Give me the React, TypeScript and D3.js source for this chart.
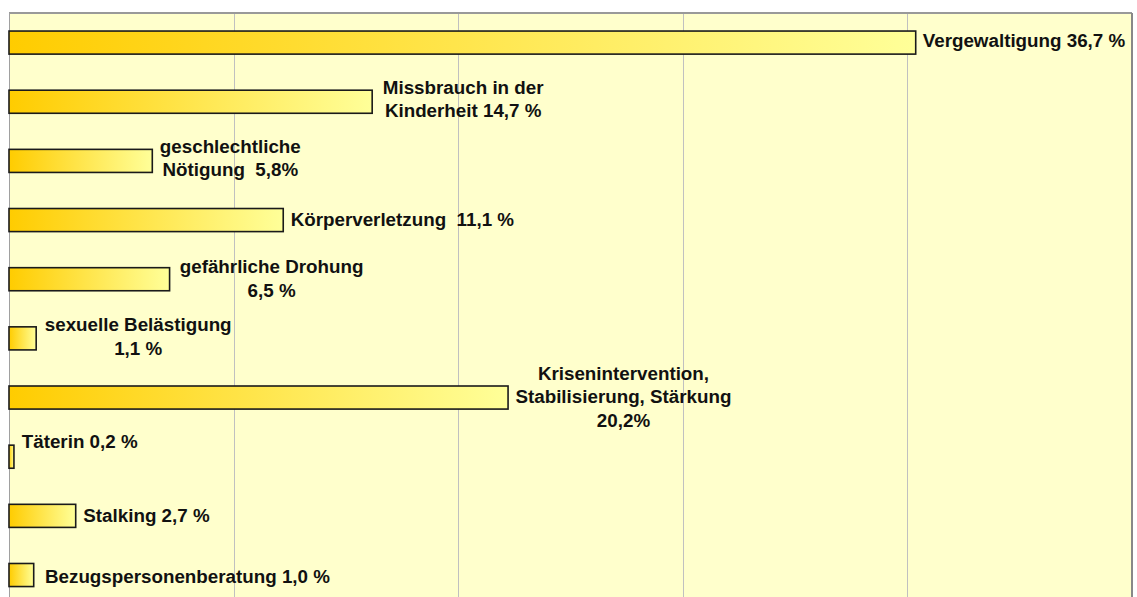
import React from "react";
import * as d3 from "d3";

// ---- data ----
const categories = [
  "Vergewaltigung",
  "Missbrauch in der Kinderheit",
  "geschlechtliche Nötigung",
  "Körperverletzung",
  "gefährliche Drohung",
  "sexuelle Belästigung",
  "Krisenintervention, Stabilisierung, Stärkung",
  "Täterin",
  "Stalking",
  "Bezugspersonenberatung",
];
const values = [36.7, 14.7, 5.8, 11.1, 6.5, 1.1, 20.2, 0.2, 2.7, 1.0];
const labelLines = [
  ["Vergewaltigung 36,7 %"],
  ["Missbrauch in der", "Kinderheit 14,7 %"],
  ["geschlechtliche", "Nötigung  5,8%"],
  ["Körperverletzung  11,1 %"],
  ["gefährliche Drohung", "6,5 %"],
  ["sexuelle Belästigung", "1,1 %"],
  ["Krisenintervention,", "Stabilisierung, Stärkung", "20,2%"],
  ["Täterin 0,2 %"],
  ["Stalking 2,7 %"],
  ["Bezugspersonenberatung 1,0 %"],
];
const axisMax = 500 / 11; // percent
const gridCount = 5;

// ---- layout (label placement relative to bar end / bar centre) ----
const labelDx = [7, 91, 78, 7.4, 102, 102, 115.4, 7.8, 7.6, 11.3];
const labelDy = [-2, -3, -3, -0.5, -1, -2, -1, -15, -0.5, 1];

const W = 1137;
const H = 597;
const plotLeft = 9;
const plotRight = 1132;
const plotTop = 13;
const plotBottom = 604.6;
const fontSize = 18.8;
const lineH = 23.5;

export default function App() {
  const x = d3.scaleLinear().domain([0, axisMax]).range([plotLeft, plotRight]);
  const y = d3
    .scaleBand<string>()
    .domain(categories)
    .range([plotTop, plotBottom])
    .paddingInner(0.61)
    .paddingOuter(0.305);
  const ticks = d3.range(0, gridCount + 1).map((i) => (i * axisMax) / gridCount);

  return (
    <svg
      width={W}
      height={H}
      style={{ position: "absolute", left: 0, top: 0, background: "#ffffff" }}
      fontFamily="'Liberation Sans', Arial, sans-serif"
    >
      <defs>
        <linearGradient id="barGrad" x1="0" y1="0" x2="1" y2="0">
          <stop offset="0%" stopColor="#FFCC00" />
          <stop offset="100%" stopColor="#FFFF99" />
        </linearGradient>
      </defs>
      <rect
        x={plotLeft}
        y={plotTop}
        width={plotRight - plotLeft}
        height={plotBottom - plotTop}
        fill="#FFFFCC"
      />
      {ticks.slice(1, -1).map((t, i) => (
        <line
          key={i}
          x1={Math.round(x(t)) + 0.5}
          x2={Math.round(x(t)) + 0.5}
          y1={plotTop}
          y2={plotBottom}
          stroke="#C0C0C0"
          strokeWidth={1}
        />
      ))}
      {/* plot border */}
      <line x1={plotLeft} x2={plotRight} y1={plotTop} y2={plotTop} stroke="#999999" strokeWidth={2} />
      <line x1={plotLeft + 0.5} x2={plotLeft + 0.5} y1={plotTop} y2={plotBottom} stroke="#A0A0A0" strokeWidth={1} />
      <line x1={plotRight} x2={plotRight} y1={plotTop} y2={plotBottom} stroke="#888888" strokeWidth={2} />
      {categories.map((c, i) => {
        const y0 = y(c) as number;
        return (
          <rect
            key={c}
            x={x(0)}
            y={y0}
            width={x(values[i]) - x(0)}
            height={y.bandwidth()}
            fill="url(#barGrad)"
            stroke="#1a1a1a"
            strokeWidth={1.6}
          />
        );
      })}
      {categories.map((c, i) => {
        const lines = labelLines[i];
        const cy = (y(c) as number) + y.bandwidth() / 2 + labelDy[i];
        const multi = lines.length > 1;
        const ax = x(values[i]) + labelDx[i];
        return (
          <text
            key={c}
            fontSize={fontSize}
            fontWeight="bold"
            fill="#111"
            textAnchor={multi ? "middle" : "start"}
            style={{ whiteSpace: "pre" }}
          >
            {lines.map((ln, k) => (
              <tspan
                key={k}
                x={ax}
                y={cy - ((lines.length - 1) / 2) * lineH + k * lineH + fontSize * 0.36}
              >
                {ln}
              </tspan>
            ))}
          </text>
        );
      })}
    </svg>
  );
}
